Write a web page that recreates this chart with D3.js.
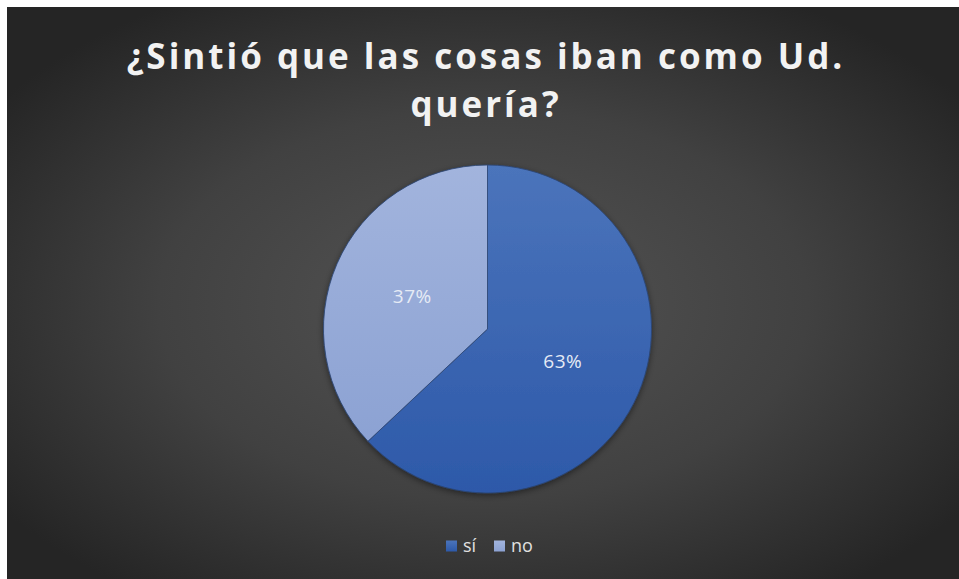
<!DOCTYPE html>
<html>
<head>
<meta charset="utf-8">
<script src="https://cdn.jsdelivr.net/npm/d3@7"></script>
<style>
  html, body { margin: 0; padding: 0; background: #ffffff; }
  svg { display: block; }
</style>
</head>
<body>
<svg id="chart" width="959" height="579"></svg>
<script>
// Survey answers
const categories = ["sí", "no"];
const values = [63, 37];
const labels = ["63%", "37%"];
const titleLines = ["¿Sintió que las cosas iban como Ud.", "quería?"];

const W = 959, H = 579;
const svg = d3.select("#chart");
const defs = svg.append("defs");

// Dark chart-area background with a soft radial glow
const bg = defs.append("radialGradient").attr("id", "bgGrad")
  .attr("cx", "0.5").attr("cy", "0.52").attr("r", "0.62");
bg.append("stop").attr("offset", "0%").attr("stop-color", "#545454");
bg.append("stop").attr("offset", "55%").attr("stop-color", "#414141");
bg.append("stop").attr("offset", "100%").attr("stop-color", "#252525");

const colors = { "sí": ["#4b74bb", "#2d59a9"], "no": ["#a2b4dd", "#8ca2d3"] };
categories.forEach((c, i) => {
  const g = defs.append("linearGradient").attr("id", "slice" + i)
    .attr("x1", 0).attr("y1", 0).attr("x2", 0).attr("y2", 1);
  g.append("stop").attr("offset", "0%").attr("stop-color", colors[c][0]);
  g.append("stop").attr("offset", "100%").attr("stop-color", colors[c][1]);
});

const shadow = defs.append("filter").attr("id", "shadow")
  .attr("x", "-20%").attr("y", "-20%").attr("width", "140%").attr("height", "140%");
shadow.append("feDropShadow").attr("dx", 0).attr("dy", 2).attr("stdDeviation", 3)
  .attr("flood-color", "#000").attr("flood-opacity", 0.45);

const area = { x: 7, y: 7, w: W - 7, h: H - 7 };
svg.append("rect").attr("x", area.x).attr("y", area.y)
  .attr("width", area.w).attr("height", area.h).attr("fill", "url(#bgGrad)");

// Title
svg.append("g").selectAll("text").data(titleLines).join("text")
  .attr("x", 486)
  .attr("y", (d, i) => 69 + i * 48)
  .attr("text-anchor", "middle")
  .attr("fill", "#f2f2f2")
  .style("font-family", "'Open Sans', sans-serif")
  .style("font-weight", "700")
  .style("font-size", "35px")
  .style("letter-spacing", "3px")
  .text(d => d);

// Pie
const cx = 487.5, cy = 329, r = 164;
const pie = d3.pie().sort(null).value(d => d.value);
const arcs = pie(categories.map((c, i) => ({ cat: c, value: values[i], label: labels[i], idx: i })));
const arc = d3.arc().innerRadius(0).outerRadius(r);
const labelArc = d3.arc().innerRadius(r * 0.5).outerRadius(r * 0.5);

const pg = svg.append("g").attr("transform", `translate(${cx},${cy})`);
pg.append("g").attr("filter", "url(#shadow)")
  .selectAll("path").data(arcs).join("path")
  .attr("d", arc)
  .attr("fill", d => `url(#slice${d.data.idx})`)
  .attr("stroke", "#2a4474")
  .attr("stroke-width", 0.8);

pg.selectAll("text.lbl").data(arcs).join("text")
  .attr("class", "lbl")
  .attr("transform", d => `translate(${labelArc.centroid(d)})`)
  .attr("text-anchor", "middle")
  .attr("dy", "0.36em")
  .attr("fill", "#e6ebf5")
  .style("font-family", "'Open Sans', sans-serif")
  .style("font-size", "19px")
  .style("letter-spacing", "0.5px")
  .text(d => d.data.label);

// Legend
const legend = svg.append("g").attr("transform", "translate(446,546)");
const items = legend.selectAll("g").data(categories).join("g")
  .attr("transform", (d, i) => `translate(${i === 0 ? 0 : 48},0)`);
items.append("rect").attr("x", 0).attr("y", -5.5).attr("width", 11).attr("height", 11)
  .attr("fill", (d, i) => `url(#slice${i})`);
items.append("text").attr("x", 17).attr("y", 0).attr("dy", "0.35em")
  .attr("fill", "#e0e0e0")
  .style("font-family", "'Open Sans', sans-serif")
  .style("font-size", "18px")
  .text(d => d);
</script>
</body>
</html>
